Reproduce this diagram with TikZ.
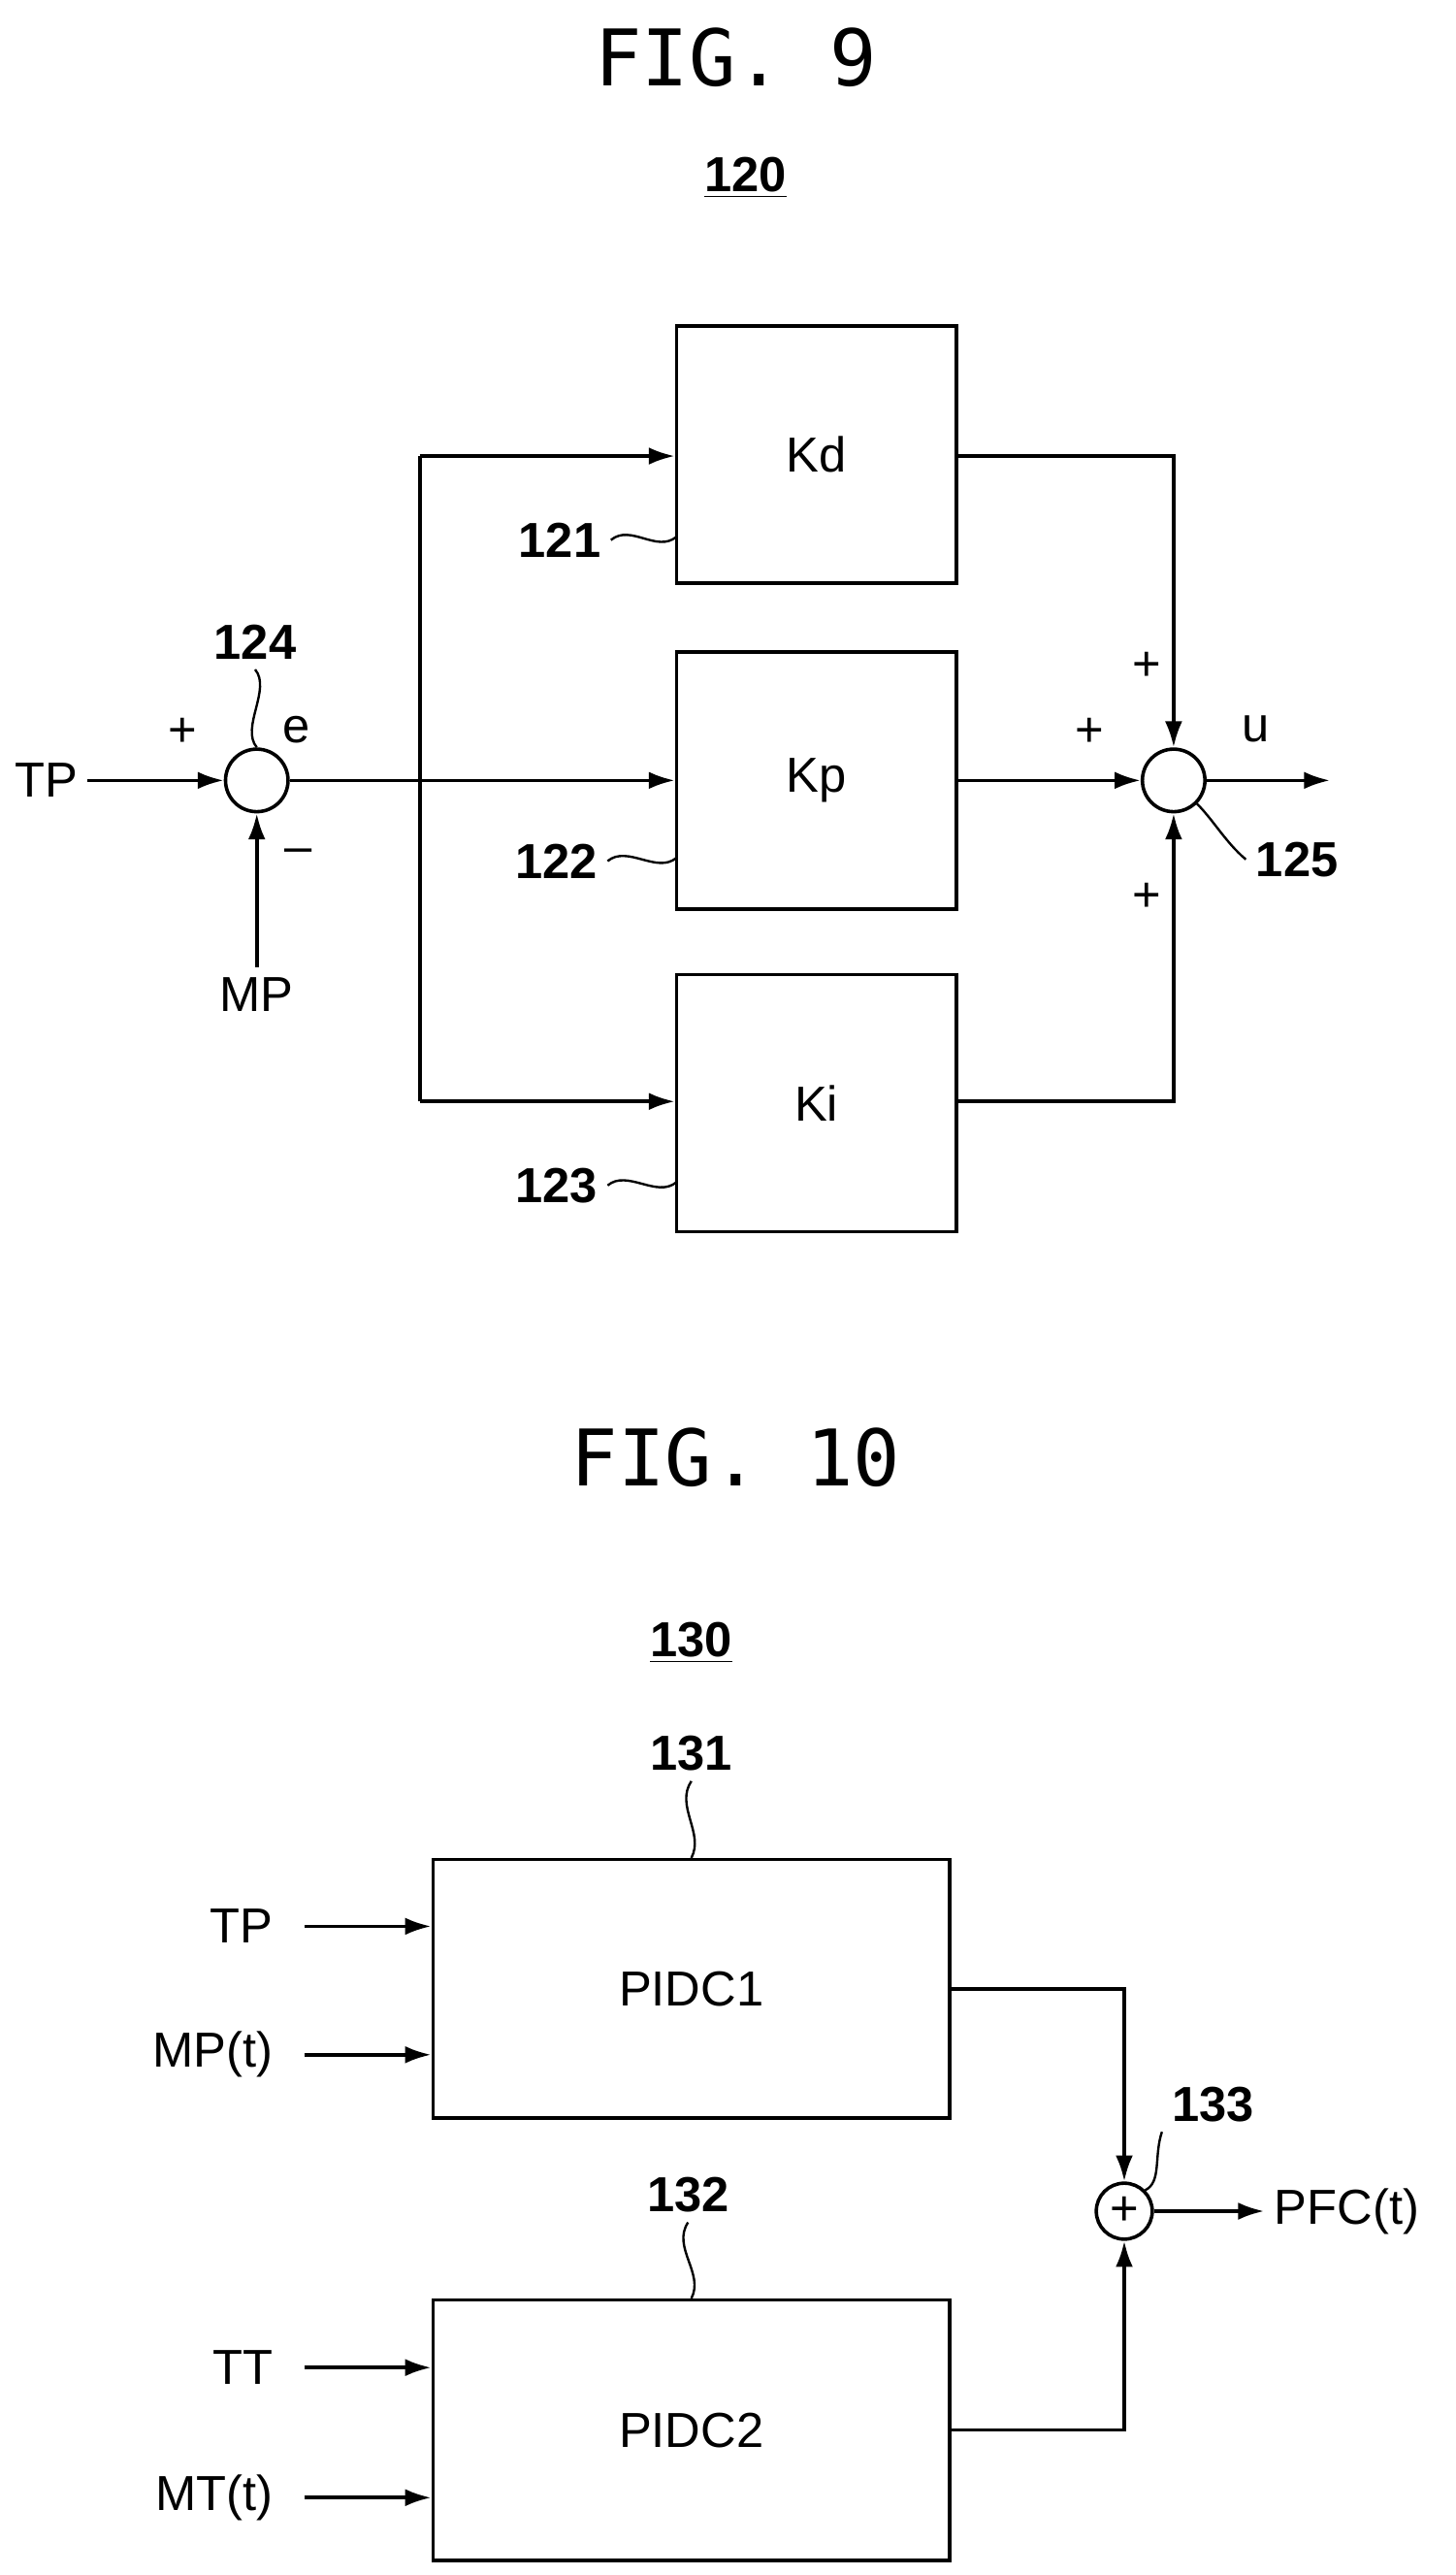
\documentclass[tikz,border=0pt]{standalone}
\usepackage{fontspec}
\setmainfont{Liberation Sans}
\newfontfamily\figfont{DejaVu Sans Mono}
\usetikzlibrary{arrows.meta}
\begin{document}
\begin{tikzpicture}[x=0.02cm,y=-0.02cm,
  box/.style={draw,line width=1.2pt,minimum width=170*0.02cm,minimum height=156*0.02cm,font=\fontsize{17}{20}\selectfont},
  sum/.style={draw,circle,line width=1.2pt,minimum size=38*0.02cm,inner sep=0pt},
  ar/.style={line width=1.2pt,-{Latex[length=9pt,width=6pt]}},
  ln/.style={line width=1.2pt},
  t/.style={font=\fontsize{17}{20}\selectfont},
  ref/.style={font=\bfseries\fontsize{17}{20}\selectfont},
  fig/.style={font=\figfont\fontsize{27}{32}\selectfont},
  sq/.style={line width=0.8pt}]
\useasboundingbox (0,0) rectangle (884,1564);
\node[fig] (f9) at (447,35) {FIG. 9};
\node[ref] (n120) at (453,108) {\underline{120}};
\node[box] (kd) at (496,276) {Kd};
\node[box] (kp) at (496,474) {Kp};
\node[box] (ki) at (496,670) {Ki};
\node[sum] (s1) at (156,474) {};
\node[sum] (s2) at (713,474) {};
\node[t] (tp) at (28,474) {TP};
\node[t] (mp) at (156,604) {MP};
\node[t] at (111,445) {+};
\node[t] at (180,443) {e};
\node[t] at (181,520) {\textendash};
\node[t] at (697,405) {+};
\node[t] at (662,445) {+};
\node[t] at (697,545) {+};
\node[t] at (763,443) {u};
\coordinate (b) at (255,474);
\coordinate (uo) at (808,474);
\draw[ar] (tp.east) -- (s1.west);
\draw[ar] (mp.north) -- (s1.south);
\draw[ln] (s1.east) -- (b);
\draw[ar] (b) -- (kp.west);
\draw[ln] (255,277) -- (255,669);
\draw[ar] (255,277) -- (kd.west |- 0,277);
\draw[ar] (255,669) -- (ki.west |- 0,669);
\draw[ar] (kd.east |- 0,277) -| (s2.north);
\draw[ar] (ki.east |- 0,669) -| (s2.south);
\draw[ar] (kp.east) -- (s2.west);
\draw[ar] (s2.east) -- (uo);
\node[ref] (n121) at (340,328) {121};
\node[ref] (n122) at (338,523) {122};
\node[ref] (n123) at (338,720) {123};
\node[ref] (n124) at (155,390) {124};
\node[ref] (n125) at (788,522) {125};
\foreach \n/\y in {n121/326,n122/521,n123/718}
  \draw[sq] (\n.east) .. controls +(12,-10) and +(-12,10) .. (411,\y);
\draw[sq] (n124.south) .. controls +(10,12) and +(-10,-12) .. (s1.north);
\draw[sq] (n125.west) .. controls +(-12,-10) and +(10,10) .. (s2.-45);
\node[fig] (f10) at (447,885) {FIG. 10};
\node[ref] (n130) at (420,998) {\underline{130}};
\node[box,minimum width=314*0.02cm,minimum height=157*0.02cm] (p1) at (420,1208) {PIDC1};
\node[box,minimum width=314*0.02cm,minimum height=158*0.02cm] (p2) at (420,1476) {PIDC2};
\node[draw,circle,line width=1.2pt,minimum size=34*0.02cm,inner sep=0pt,t] (s3) at (683,1343) {+};
\node[t,anchor=east] (tp2) at (172,1170) {TP};
\node[t,anchor=east] (mp2) at (172,1248) {MP(t)};
\node[t,anchor=east] (tt) at (172,1438) {TT};
\node[t,anchor=east] (mt) at (172,1517) {MT(t)};
\node[t,anchor=west] (pfc) at (768,1343) {PFC(t)};
\foreach \a/\y in {tp2/1170,mp2/1248,tt/1438,mt/1517}
  \draw[ar] (185,\y) -- (p1.west |- 0,\y);
\draw[ar] (p1.east |- 0,1208) -| (s3.north);
\draw[ar] (p2.east |- 0,1476) -| (s3.south);
\draw[ar] (s3.east) -- (pfc.west);
\node[ref] (n131) at (420,1065) {131};
\node[ref] (n132) at (418,1333) {132};
\node[ref] (n133) at (737,1278) {133};
\draw[sq] (n131.south) .. controls +(-10,15) and +(8,-15) .. (p1.north);
\draw[sq] (n132.south) .. controls +(-10,15) and +(8,-15) .. (p2.north);
\draw[sq] (n133.south west) .. controls +(-5,15) and +(10,-5) .. (s3.45);
\end{tikzpicture}
\end{document}
